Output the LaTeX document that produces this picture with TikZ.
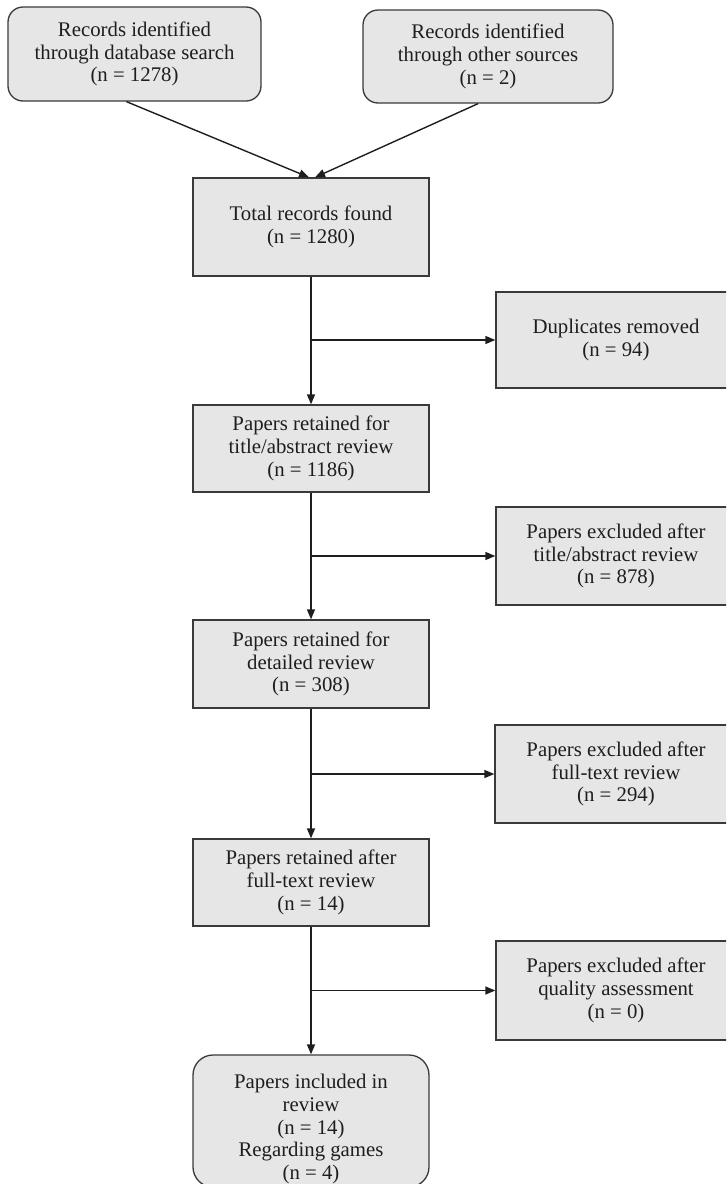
\documentclass[tikz,border=0pt]{standalone}
\usepackage{fontspec}
\setmainfont{Liberation Serif}
\usetikzlibrary{arrows.meta}
\definecolor{boxfill}{HTML}{E6E6E6}
\definecolor{boxline}{HTML}{3A3A3A}
\definecolor{ink}{HTML}{1E1E1E}
\begin{document}
\begin{tikzpicture}[x=1pt,y=-1pt,
  every node/.style={font=\fontsize{20.8}{22.8}\selectfont, text=ink, align=center},
  base/.style={draw=boxline, fill=boxfill, line width=1.3pt, inner sep=0pt},
  rbox/.style={base, rounded corners=15pt},
  sbox/.style={base},
  flow/.style={draw=ink, line width=1.4pt, -{Triangle[length=10pt,width=8pt]}},
]
\useasboundingbox (0,0) rectangle (726,1184);
\begin{scope}
\clip (0,0) rectangle (726,1184);
\node[rbox, minimum width=253pt, minimum height=94pt] (src1) at (134.5,54) {Records identified\\through database search\\(n = 1278)};
\node[rbox, minimum width=250pt, minimum height=93pt] (src2) at (488,56.5) {Records identified\\through other sources\\(n = 2)};
\node[sbox, minimum width=236pt, minimum height=98pt] (total) at (311,227) {Total records found\\(n = 1280)};
\node[sbox, minimum width=240pt, minimum height=96pt] (dup) at (616,340) {Duplicates removed\\(n = 94)};
\node[sbox, minimum width=236pt, minimum height=87pt] (ret1) at (311,448.5) {Papers retained for\\title/abstract review\\(n = 1186)};
\node[sbox, minimum width=240pt, minimum height=98pt] (ex1) at (616,556) {Papers excluded after\\title/abstract review\\(n = 878)};
\node[sbox, minimum width=236pt, minimum height=88pt] (ret2) at (311,664) {Papers retained for\\detailed review\\(n = 308)};
\node[sbox, minimum width=242pt, minimum height=98pt] (ex2) at (616,774) {Papers excluded after\\full-text review\\(n = 294)};
\node[sbox, minimum width=236pt, minimum height=87pt] (ret3) at (311,882.5) {Papers retained after\\full-text review\\(n = 14)};
\node[sbox, minimum width=240pt, minimum height=99pt] (ex3) at (616,990.5) {Papers excluded after\\quality assessment\\(n = 0)};
\node[base, rounded corners=20pt, minimum width=236pt, minimum height=132pt] (final) at (311,1121) {};
\node (finaltext) at (311,1129) {Papers included in\\review\\(n = 14)\\Regarding games\\(n = 4)};
\end{scope}
\draw[flow] ([xshift=-8pt]src1.south) -- ([xshift=-2pt]total.north);
\draw[flow] ([xshift=-10pt]src2.south) -- ([xshift=4pt]total.north);
\draw[flow] (total.south) -- (ret1.north);
\draw[flow] (ret1.south) -- (ret2.north);
\draw[flow] (ret2.south) -- (ret3.north);
\draw[flow] (ret3.south) -- (final.north);
\coordinate (b1) at (total.south |- dup.west);
\coordinate (b2) at (ret1.south |- ex1.west);
\coordinate (b3) at (ret2.south |- ex2.west);
\coordinate (b4) at (ret3.south |- ex3.west);
\draw[flow] (b1) -- (dup.west);
\draw[flow] (b2) -- (ex1.west);
\draw[flow] (b3) -- (ex2.west);
\draw[flow] (b4) -- (ex3.west);
\end{tikzpicture}
\end{document}
